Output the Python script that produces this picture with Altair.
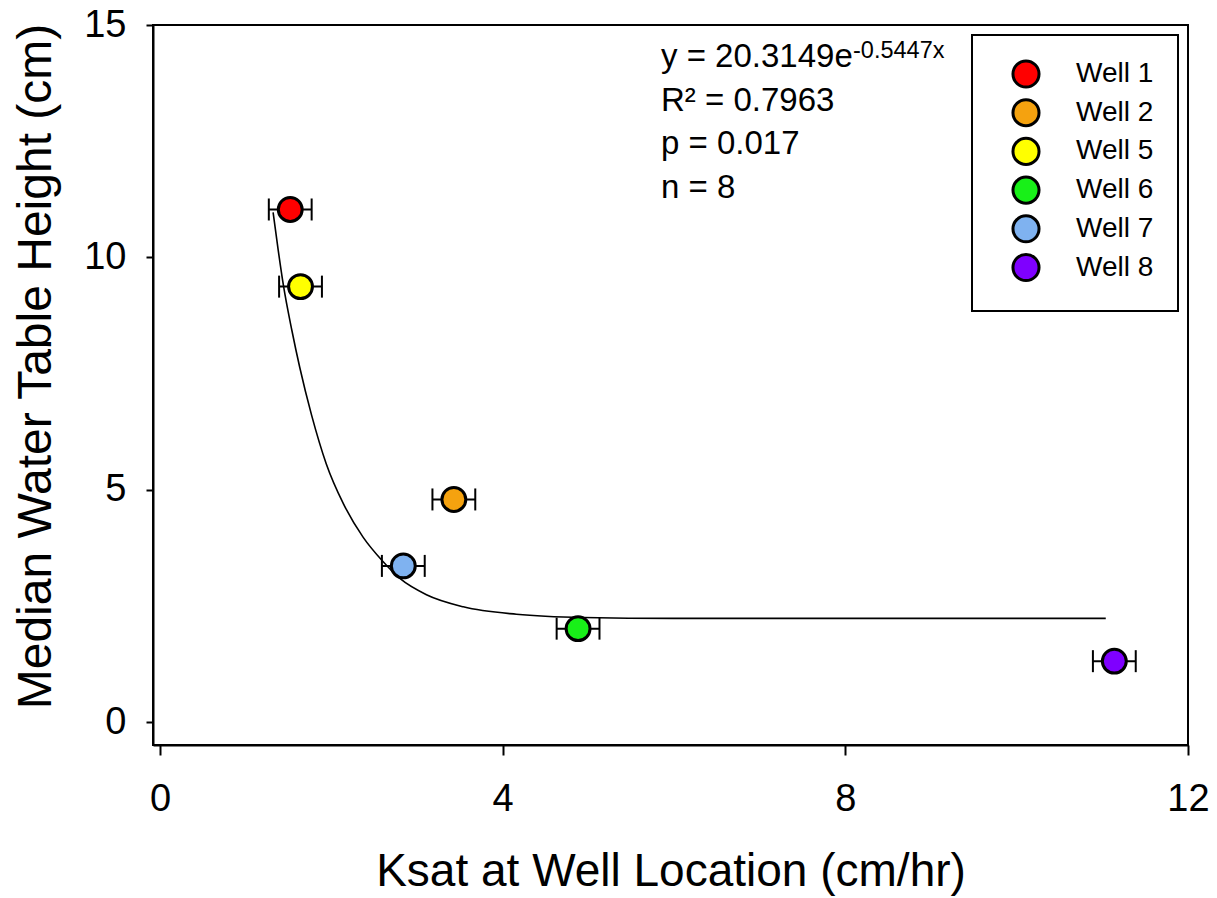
import altair as alt
import pandas as pd

# Well measurements: saturated hydraulic conductivity vs. median water-table height
wells = ["Well 1", "Well 2", "Well 5", "Well 6", "Well 7", "Well 8"]
ksat = [1.52, 3.43, 1.64, 4.88, 2.84, 11.14]
ksat_err = [0.25, 0.25, 0.25, 0.25, 0.25, 0.25]
wt_height = [11.03, 4.79, 9.37, 2.01, 3.36, 1.31]
well_colors = ["#ff0000", "#f5a20f", "#ffff00", "#18f018", "#7fb2f0", "#7f00ff"]

# Fitted decay curve, sampled along its trace
curve_x = [1.32, 1.38, 1.44, 1.54, 1.63, 1.77, 1.94, 2.14, 2.37, 2.60, 2.80,
           3.11, 3.54, 4.16, 4.94, 6.00, 8.00, 11.04]
curve_y = [10.97, 10.15, 9.40, 8.42, 7.64, 6.60, 5.56, 4.70, 3.98, 3.46, 3.09,
           2.74, 2.48, 2.32, 2.25, 2.23, 2.23, 2.23]

# Regression statistics
stat_lines = ["y = 20.3149e", "R\u00b2 = 0.7963", "p = 0.017", "n = 8"]
exp_text = "-0.5447x"

FONT = "Arial"

points = pd.DataFrame({
    "well": wells,
    "ksat": ksat,
    "lo": [k - e for k, e in zip(ksat, ksat_err)],
    "hi": [k + e for k, e in zip(ksat, ksat_err)],
    "wt": wt_height,
})
curve = pd.DataFrame({"ksat": curve_x, "wt": curve_y})

x_scale = alt.Scale(domain=[-0.082, 12], nice=False, zero=False)
y_scale = alt.Scale(domain=[-0.494, 15], nice=False, zero=False)

x_axis = alt.Axis(
    values=[0, 4, 8, 12], format="d", grid=False, labelFlush=False,
    tickSize=10, tickWidth=2, domainWidth=2,
    labelFontSize=38, labelPadding=25, labelFont=FONT,
    title="Ksat at Well Location (cm/hr)", titleFontSize=46, titleFont=FONT,
    titleFontWeight="normal", titleY=140, titleBaseline="alphabetic",
)
y_axis = alt.Axis(
    values=[0, 5, 10, 15], format="d", grid=False, labelFlush=False,
    tickSize=7, tickWidth=2, domainWidth=2,
    labelFontSize=38, labelPadding=20, labelFont=FONT,
    title="Median Water Table Height (cm)", titleFontSize=48, titleFont=FONT,
    titleFontWeight="normal", titleX=-103, titleY=341, titleBaseline="alphabetic",
    titleAngle=270,
)

base = alt.Chart(points)

fit_line = alt.Chart(curve).mark_line(
    color="black", strokeWidth=1.6, interpolate="monotone"
).encode(
    x=alt.X("ksat:Q", scale=x_scale, axis=x_axis),
    y=alt.Y("wt:Q", scale=y_scale, axis=y_axis),
)

err_bar = base.mark_rule(color="black", strokeWidth=2).encode(
    x="lo:Q", x2="hi:Q", y="wt:Q"
)
cap_lo = base.mark_rule(color="black", strokeWidth=2, yOffset=-11, y2Offset=11).encode(
    x="lo:Q", y="wt:Q", y2="wt:Q"
)
cap_hi = base.mark_rule(color="black", strokeWidth=2, yOffset=-11, y2Offset=11).encode(
    x="hi:Q", y="wt:Q", y2="wt:Q"
)

dots = base.mark_point(
    filled=True, size=570, stroke="black", strokeWidth=3, opacity=1, shape="circle"
).encode(
    x="ksat:Q",
    y="wt:Q",
    fill=alt.Fill(
        "well:N",
        scale=alt.Scale(domain=wells, range=well_colors),
        legend=alt.Legend(
            title=None, orient="none", legendX=819, legendY=10,
            strokeColor="black", padding=24, symbolType="circle",
            symbolSize=680, symbolStrokeColor="black", symbolStrokeWidth=3,
            symbolOffset=15, labelOffset=35, rowPadding=-1.3,
            labelFontSize=28, labelFont=FONT, labelColor="black",
        ),
    ),
)

# Regression annotation, one text layer per line
stat_layers = []
for i, line in enumerate(stat_lines):
    stat_layers.append(
        alt.Chart(pd.DataFrame({"t": [line]})).mark_text(
            align="left", baseline="alphabetic", fontSize=33, font=FONT, color="black"
        ).encode(text="t:N", x=alt.value(508), y=alt.value(42 + 43.5 * i))
    )
exp_layer = alt.Chart(pd.DataFrame({"t": [exp_text]})).mark_text(
    align="left", baseline="alphabetic", fontSize=23.5, font=FONT, color="black"
).encode(text="t:N", x=alt.value(700), y=alt.value(33))

chart = alt.layer(
    fit_line, err_bar, cap_lo, cap_hi, dots, *stat_layers, exp_layer
).properties(
    width=1035, height=720,
    padding={"left": 153, "top": 25, "right": 29, "bottom": 153},
    autosize="none", background="white",
).configure_view(
    stroke="black", strokeWidth=2
).configure_axis(
    domainColor="black", tickColor="black", labelColor="black", titleColor="black"
).configure_legend(
    strokeWidth=2
)

chart.save("out.html", embed_options={"renderer": "svg", "actions": False})
